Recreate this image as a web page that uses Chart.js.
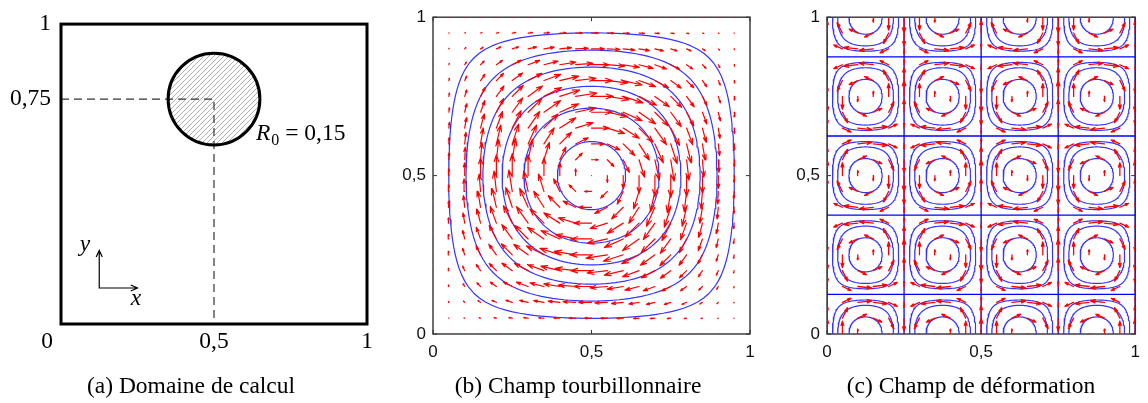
<!DOCTYPE html>
<html>
<head>
<meta charset="utf-8">
<script src="https://cdn.jsdelivr.net/npm/chart.js@4/dist/chart.umd.min.js"></script>
<style>
  body { margin: 0; background: #fff; width: 1148px; height: 403px; overflow: hidden; position: relative; }
  canvas { position: absolute; top: 0; }
  .cap { position: absolute; top: 370px; width: 320px; text-align: center; white-space: nowrap;
         font: 23.5px 'Liberation Serif', serif; line-height: 30px; color: #000; }
</style>
</head>
<body>
<canvas id="chartA" width="400" height="403" style="left:0"></canvas>
<canvas id="chartB" width="390" height="403" style="left:390px"></canvas>
<canvas id="chartC" width="358" height="403" style="left:790px"></canvas>
<div class="cap" style="left:31px">(a) Domaine de calcul</div>
<div class="cap" style="left:418px">(b) Champ tourbillonnaire</div>
<div class="cap" style="left:811px">(c) Champ de déformation</div>
<script>
/* Three panels: computational domain, vortex field, deformation field */

const SERIF = "'Liberation Serif', serif";
const SANS = "'Liberation Sans', Arial, sans-serif";
const RED = '#ff0000';
const BLUE = '#3535ff';

// panel (a)
const TICKS_A_X = [0.5, 1];
const TICKS_A_Y = [0.75, 1];
const DISC_CENTER = [0.5, 0.75];
const DISC_RADIUS = 0.15;
const GUIDE = [[0, 0.75], [0.5, 0.75], [0.5, 0]];
const AXIS_ORIGIN = [0.125, 0.12];
const AXIS_LEN = 0.125;
const AXIS_NAMES = [['y', 0.078, 0.243], ['x', 0.245, 0.062]];
const R_LABEL = [0.637, 0.615];

// panels (b) and (c)
const TICKS = [0, 0.5, 1];
const GRID = [0, 0.05, 0.1, 0.15, 0.2, 0.25, 0.3, 0.35, 0.4, 0.45, 0.5,
              0.55, 0.6, 0.65, 0.7, 0.75, 0.8, 0.85, 0.9, 0.95, 1];
const LEVELS_B = [0.89, 0.615, 0.4, 0.225, 0.103, 0.024];
const CELL_X = [0.125, 0.375, 0.625, 0.875];
const CELL_Y = [0, 0.25, 0.5, 0.75, 1];
const LEVELS_C = [0.78, 0.42, 0.22];
const SEP_X = [0, 0.25, 0.5, 0.75, 1];
const SEP_Y = [0.125, 0.375, 0.625, 0.875];
const ARROW_SCALE_B = 0.069;
const ARROW_SCALE_C = 0.05;

const GAP = { x: null, y: null };
const fmt = (v) => String(v).replace('.', ',');
const P = Math.PI;
const sq = (t) => t * t;

// velocity fields shown in (b) and (c)
const vortex = (x, y) => [-sq(Math.sin(P * x)) * Math.sin(2 * P * y), sq(Math.sin(P * y)) * Math.sin(2 * P * x)];
const deform = (x, y) => [Math.sin(4 * P * (x + 0.5)) * Math.sin(4 * P * (y + 0.5)),
                          Math.cos(4 * P * (x + 0.5)) * Math.cos(4 * P * (y + 0.5))];

function quiver(field, scale) {
  const pts = [];
  for (const y of GRID) for (const x of GRID) {
    const [u, v] = field(x, y);
    const du = u * scale, dv = v * scale, tx = x + du, ty = y + dv;
    pts.push({ x, y }, { x: tx, y: ty },
      { x: tx - 0.33 * (du + 0.33 * dv), y: ty - 0.33 * (dv - 0.33 * du) }, GAP,
      { x: tx, y: ty }, { x: tx - 0.33 * (du - 0.33 * dv), y: ty - 0.33 * (dv + 0.33 * du) }, GAP);
  }
  return pts;
}

// closed level curve around (cx, cy), found along rays
function ring(f, cx, cy, half, level) {
  const pts = [];
  for (let k = 0; k <= 144; k++) {
    const t = (k / 144) * 2 * P, c = Math.cos(t), s = Math.sin(t);
    let lo = 0, hi = half / Math.max(Math.abs(c), Math.abs(s));
    for (let i = 0; i < 32; i++) {
      const m = (lo + hi) / 2;
      if (f(cx + m * c, cy + m * s) > level) lo = m; else hi = m;
    }
    pts.push({ x: cx + lo * c, y: cy + lo * s });
  }
  pts.push(GAP);
  return pts;
}

function hatch() {
  const p = document.createElement('canvas');
  p.width = p.height = 5;
  const c = p.getContext('2d');
  c.strokeStyle = '#777'; c.lineWidth = 0.6;
  c.beginPath();
  c.moveTo(0, 5); c.lineTo(5, 0);
  c.moveTo(-1, 1); c.lineTo(1, -1);
  c.moveTo(4, 6); c.lineTo(6, 4);
  c.stroke();
  return c.createPattern(p, 'repeat');
}

function axis(ticks, font, color, padding, fit) {
  return {
    type: 'linear', min: 0, max: 1,
    afterBuildTicks: (s) => { s.ticks = ticks.map((value) => ({ value })); },
    afterFit: fit,
    grid: { display: false, drawTicks: false }, border: { display: false },
    ticks: { callback: fmt, font, color, padding, autoSkip: false, maxRotation: 0 },
  };
}

const framePlugin = {
  id: 'frame',
  beforeDatasetsDraw(chart, args, o) { if (!o.onTop) drawFrame(chart, o); },
  afterDatasetsDraw(chart, args, o) { if (o.onTop) drawFrame(chart, o); },
};

function drawFrame(chart, o) {
  const { ctx, chartArea: a, scales: { x, y } } = chart;
  ctx.save();
  ctx.strokeStyle = o.color; ctx.lineWidth = o.width;
  ctx.strokeRect(a.left, a.top, a.right - a.left, a.bottom - a.top);
  if (o.tick) {
    ctx.lineWidth = 1;
    ctx.beginPath();
    for (const v of TICKS) {
      const px = x.getPixelForValue(v), py = y.getPixelForValue(v);
      ctx.moveTo(px, a.bottom); ctx.lineTo(px, a.bottom - o.tick);
      ctx.moveTo(px, a.top); ctx.lineTo(px, a.top + o.tick);
      ctx.moveTo(a.left, py); ctx.lineTo(a.left + o.tick, py);
      ctx.moveTo(a.right, py); ctx.lineTo(a.right - o.tick, py);
    }
    ctx.stroke();
  }
  ctx.restore();
}

const labelsA = {
  id: 'labelsA',
  afterDraw(chart) {
    const { ctx, scales: { x, y } } = chart;
    ctx.save();
    ctx.fillStyle = '#000';
    ctx.font = `23.5px ${SERIF}`; ctx.textAlign = 'center'; ctx.textBaseline = 'middle';
    ctx.fillText('0', x.getPixelForValue(0) - 14, x.top + 4 + 14.1);
    ctx.font = `italic 23.5px ${SERIF}`; ctx.textBaseline = 'alphabetic';
    for (const [t, px, py] of AXIS_NAMES) ctx.fillText(t, x.getPixelForValue(px), y.getPixelForValue(py));
    ctx.textAlign = 'left';
    let cx = x.getPixelForValue(R_LABEL[0]);
    const cy = y.getPixelForValue(R_LABEL[1]);
    ctx.fillText('R', cx, cy); cx += ctx.measureText('R').width + 1;
    ctx.font = `16px ${SERIF}`; ctx.fillText('0', cx, cy + 5); cx += ctx.measureText('0').width;
    ctx.font = `23.5px ${SERIF}`; ctx.fillText(' = 0,15', cx, cy);
    ctx.restore();
  },
};

const line = (data, color, width, extra) => Object.assign({
  type: 'scatter', data, showLine: true, borderColor: color, borderWidth: width,
  pointRadius: 0, borderCapStyle: 'round', borderJoinStyle: 'round', tension: 0,
}, extra || {});

const base = (padding, scales, plugins) => ({
  responsive: false, animation: false, events: [], devicePixelRatio: 1,
  layout: { padding }, scales,
  plugins: Object.assign({ legend: { display: false }, tooltip: { enabled: false } }, plugins),
});

// ---- (a) Domaine de calcul
const serifFont = { family: SERIF, size: 23.5, lineHeight: 1.2 };
const [ox, oy] = AXIS_ORIGIN;
const discRadius = (ctx) => {
  const s = ctx.chart.scales.x;
  return s.getPixelForValue(DISC_RADIUS) - s.getPixelForValue(0);
};
new Chart(document.getElementById('chartA'), {
  type: 'scatter',
  data: {
    datasets: [
      { data: [{ x: DISC_CENTER[0], y: DISC_CENTER[1] }], pointRadius: discRadius, pointBackgroundColor: hatch(),
        pointBorderWidth: 0, pointBorderColor: 'rgba(0,0,0,0)', order: 4 },
      line(GUIDE.map(([x, y]) => ({ x, y })), '#333', 1.2, { borderDash: [8, 5], borderCapStyle: 'butt', order: 3 }),
      { data: [{ x: DISC_CENTER[0], y: DISC_CENTER[1] }], pointRadius: discRadius, pointBackgroundColor: 'rgba(0,0,0,0)',
        pointBorderWidth: 3, pointBorderColor: '#000', order: 2 },
      line([
        { x: ox, y: oy + AXIS_LEN }, { x: ox, y: oy }, { x: ox + AXIS_LEN, y: oy }, GAP,
        { x: ox - 0.01, y: oy + AXIS_LEN - 0.022 }, { x: ox, y: oy + AXIS_LEN }, { x: ox + 0.01, y: oy + AXIS_LEN - 0.022 }, GAP,
        { x: ox + AXIS_LEN - 0.022, y: oy + 0.01 }, { x: ox + AXIS_LEN, y: oy }, { x: ox + AXIS_LEN - 0.022, y: oy - 0.01 },
      ], '#000', 1.2, { borderCapStyle: 'butt', borderJoinStyle: 'miter', order: 1 }),
    ],
  },
  options: base({ left: 0, top: 19, right: 33, bottom: 0 }, {
    x: axis(TICKS_A_X, serifFont, '#000', 4, (s) => { s.height = 79; }),
    y: axis(TICKS_A_Y, serifFont, '#000', 10, (s) => { s.width = 61; }),
  }, { frame: { color: '#000', width: 3, onTop: true } }),
  plugins: [framePlugin, labelsA],
});

// ---- (b) Champ tourbillonnaire
const sansFont = { family: SANS, size: 17, lineHeight: 1.2 };
const psiB = (x, y) => sq(Math.sin(P * x)) * sq(Math.sin(P * y));
new Chart(document.getElementById('chartB'), {
  type: 'scatter',
  data: {
    datasets: [
      line(quiver(vortex, ARROW_SCALE_B), RED, 1.2, { order: 1 }),
      line(LEVELS_B.flatMap((l) => ring(psiB, 0.5, 0.5, 0.5, l)), BLUE, 1.2, { order: 2 }),
    ],
  },
  options: base({ left: 0, top: 17, right: 30, bottom: 0 }, {
    x: axis(TICKS, sansFont, '#111', 8, (s) => { s.height = 69; }),
    y: axis(TICKS, sansFont, '#111', 7, (s) => { s.width = 43; }),
  }, { frame: { color: '#333', width: 1.4, tick: 4 } }),
  plugins: [framePlugin],
});

// ---- (c) Champ de déformation
const cellFn = (cx, cy) => (x, y) => Math.abs(Math.cos(4 * P * (x - cx)) * Math.cos(4 * P * (y - cy)));
const ringsC = [];
for (const cy of CELL_Y) for (const cx of CELL_X) for (const l of LEVELS_C) ringsC.push(...ring(cellFn(cx, cy), cx, cy, 0.125, l));
const seps = [
  ...SEP_X.flatMap((x) => [{ x, y: 0 }, { x, y: 1 }, GAP]),
  ...SEP_Y.flatMap((y) => [{ x: 0, y }, { x: 1, y }, GAP]),
];
new Chart(document.getElementById('chartC'), {
  type: 'scatter',
  data: {
    datasets: [
      line(quiver(deform, ARROW_SCALE_C), RED, 1.3, { order: 1 }),
      line(seps, '#0000ff', 1.3, { order: 2 }),
      line(ringsC, BLUE, 1.2, { order: 3 }),
    ],
  },
  options: base({ left: 0, top: 17, right: 5, bottom: 0 }, {
    x: axis(TICKS, sansFont, '#111', 8, (s) => { s.height = 69; }),
    y: axis(TICKS, sansFont, '#111', 7, (s) => { s.width = 37; }),
  }, { frame: { color: '#333', width: 1.4, tick: 4 } }),
  plugins: [framePlugin],
});
</script>
</body>
</html>
